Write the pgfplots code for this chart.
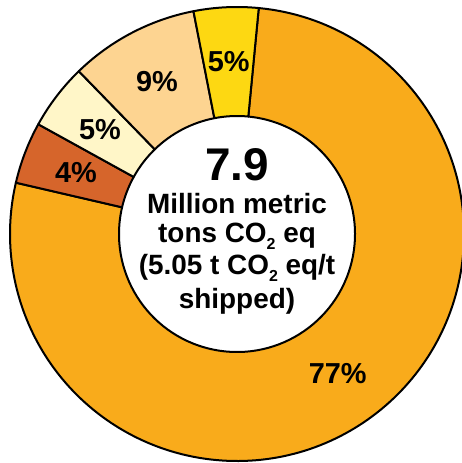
\documentclass[border=0pt]{standalone}
\usepackage{fontspec}
\setmainfont{Liberation Sans}
\usepackage{pgfplots}
\usepackage{pgfplotstable}
\pgfplotsset{compat=1.18}
\definecolor{cA}{RGB}{249,171,27}
\definecolor{cB}{RGB}{214,101,43}
\definecolor{cC}{RGB}{255,246,200}
\definecolor{cD}{RGB}{253,212,145}
\definecolor{cE}{RGB}{253,216,18}
\newcommand\sub[1]{\raisebox{-7bp}{\fontsize{16}{16}\selectfont #1}}
\pgfplotstableread{
share color
77.1 cA
4.4 cB
4.7 cC
9.2 cD
4.6 cE
}\donutdata
\begin{document}
\begin{tikzpicture}
\begin{axis}[x=1bp,y=1bp,xmin=-237,xmax=225,ymin=-229,ymax=234,hide axis,clip=false]
\pgfplotsextra{
  \gdef\startang{84.5}
  \foreach \i in {0,...,4}{
    \pgfplotstablegetelem{\i}{share}\of\donutdata
    \let\val\pgfplotsretval
    \pgfplotstablegetelem{\i}{color}\of\donutdata
    \let\col\pgfplotsretval
    \pgfmathsetmacro\endang{\startang-3.6*\val}
    \pgfmathsetmacro\midang{(\startang+\endang)/2}
    \pgfmathtruncatemacro\lab{round(\val)}
    \filldraw[fill=\col,draw=black,line width=2bp,line join=round]
      (axis cs:{227*cos(\startang)},{227*sin(\startang)})
      arc[start angle=\startang,end angle=\endang,radius=227bp]
      -- (axis cs:{118*cos(\endang)},{118*sin(\endang)})
      arc[start angle=\endang,end angle=\startang,radius=118bp] -- cycle;
    \node[font=\bfseries\fontsize{29}{29}\selectfont]
      at (axis cs:{172.5*cos(\midang)},{172.5*sin(\midang)})
      {\lab\%};
    \xdef\startang{\endang}
  }
}
\begin{scope}[every node/.style={anchor=base,inner sep=0pt,font=\bfseries\fontsize{28}{28}\selectfont}]
\node[font=\bfseries\fontsize{46}{46}\selectfont] at (axis cs:0,53) {7.9};
\node at (axis cs:0,20) {Million metric};
\node at (axis cs:0,-9) {tons CO\sub{2} eq};
\node at (axis cs:0,-41) {(5.05 t CO\sub{2} eq/t};
\node at (axis cs:0,-75) {shipped)};
\end{scope}
\end{axis}
\pgfresetboundingbox
\useasboundingbox (current axis.south west) rectangle (current axis.north east);
\end{tikzpicture}
\end{document}
